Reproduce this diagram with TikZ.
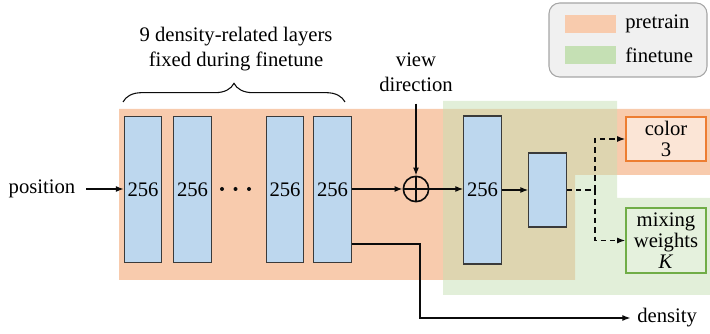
\documentclass[tikz,border=0pt]{standalone}
\usepackage{fontspec}
\setmainfont{Liberation Serif}
\usetikzlibrary{arrows.meta,positioning,decorations.pathreplacing}
\definecolor{pre1}{HTML}{F8CBAD}
\definecolor{fine1}{HTML}{C5E0B4}
\definecolor{layer1}{HTML}{BDD7EE}
\definecolor{orange1}{HTML}{ED7D31}
\definecolor{green1}{HTML}{70AD47}
\definecolor{ink}{HTML}{0B0B0B}
\definecolor{edge1}{HTML}{3A3A3A}
\tikzset{
  layer/.style={draw=edge1,fill=layer1,line width=0.8pt,minimum width=28pt,
                minimum height=110pt,inner sep=0pt},
  outbox/.style={line width=1.3pt,minimum width=60pt,align=center,inner sep=0pt,
                 font=\fontsize{15.5}{15.5}\selectfont},
  conn/.style={ink,line width=0.9pt,-{Latex[length=6pt,width=4.5pt]}},
  dashconn/.style={conn,dash pattern=on 4pt off 3pt},
  lbl/.style={align=center,inner sep=0pt},
}
\begin{document}
\begin{tikzpicture}[x=0.75pt,y=-0.75pt,font=\fontsize{15.5}{18.75}\selectfont]
  \useasboundingbox (0,0) rectangle (710,334);
  % pretrain / finetune areas
  \fill[pre1] (119,109) -- (710,109) -- (710,175) -- (575,175) -- (575,280)
        -- (119,280) -- cycle;
  \fill[fine1,opacity=0.5] (443,101) -- (617,101) -- (617,198) -- (710,198)
        -- (710,295) -- (443,295) -- cycle;
  % legend
  \draw[gray!70,fill=gray!12,rounded corners=8pt,line width=0.8pt] (549,3) rectangle (707,77);
  \fill[pre1] (565,15) rectangle (616,33);
  \fill[fine1] (565,46) rectangle (616,64);
  \node[lbl,anchor=west] (legpre) at (625,24) {pretrain};
  \node[lbl,anchor=west] (legfine) at (625,55) {finetune};
  % density layers
  \node[layer] (l1) at (143,189.5) {256};
  \node[layer] (l2) at (192.5,189.5) {256};
  \node[layer] (l3) at (285,189.5) {256};
  \node[layer] (l4) at (332.5,189.5) {256};
  \foreach \x in {222,235.5,249}{\fill[ink] (\x,189) circle (2);}
  \draw[ink,line width=0.8pt,decorate,decoration={brace,amplitude=14pt}]
        (123,102) -- (345,102);
  \node[lbl] (brlab) at (236,49.5) {9 density-related layers\\fixed during finetune};
  \node[lbl] (pos) at (42,189) {position};
  \draw[conn,shorten <=8pt] (pos) -- (pos -| l1.west);
  % view direction
  \node[circle,draw=ink,line width=1.2pt,minimum size=19pt,inner sep=0pt] (op) at (416,189) {};
  \draw[ink,line width=1.2pt] (op.north) -- (op.south) (op.west) -- (op.east);
  \node[lbl] (view) at (416,72) {view\\direction};
  \draw[conn,shorten <=9pt] (view) -- (op);
  \draw[conn] (l4.east |- op) -- (op);
  % color branch
  \node[layer,minimum height=111pt] (l5) at (482.5,190) {256};
  \node[layer,minimum height=55.5pt] (l6) at (547.5,190) {};
  \draw[conn] (op) -- (l5.west |- op);
  \draw[conn] (l5.east |- l6) -- (l6);
  \node[outbox,draw=orange1,fill=orange1!20,minimum height=33pt] (color) at (666,139) {color\\3};
  \node[outbox,draw=green1,fill=fine1!45,minimum height=48.75pt] (mix) at (666,240.5)
       {mixing\\weights\\\textit{K}};
  \coordinate (split) at (595,190);
  \draw[ink,line width=0.9pt,dash pattern=on 4pt off 3pt] (l6.east) -- (split);
  \draw[dashconn] (split) |- (color);
  \draw[dashconn] (split) |- (mix);
  % density output
  \coordinate (dout) at ([yshift=-40.9pt]l4.east);
  \coordinate (dturn) at (420,318);
  \node[lbl,anchor=west] (dens) at (637,318) {density};
  \draw[conn,shorten >=5pt] (dout) -| (dturn) -- (dens.west);
\end{tikzpicture}
\end{document}
